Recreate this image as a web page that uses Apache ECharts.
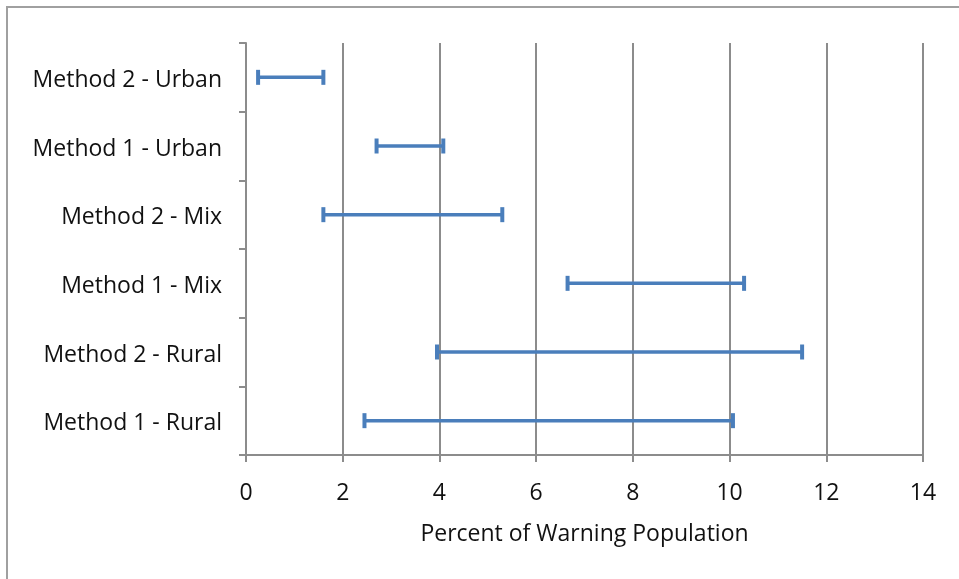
<!DOCTYPE html>
<html>
<head>
<meta charset="utf-8">
<script src="https://cdn.jsdelivr.net/npm/echarts@6/dist/echarts.min.js"></script>
<style>html,body{margin:0;padding:0;background:#fff;}#c{width:959px;height:579px;}</style>
</head>
<body>
<div id="c"></div>
<script>
// Categories from bottom to top
var categories = ['Method 1 - Rural', 'Method 2 - Rural', 'Method 1 - Mix', 'Method 2 - Mix', 'Method 1 - Urban', 'Method 2 - Urban'];
var lowValues  = [2.45, 3.95, 6.65, 1.6, 2.7, 0.25];
var highValues = [10.07, 11.5, 10.3, 5.3, 4.08, 1.6];
var xTicks = [0, 2, 4, 6, 8, 10, 12, 14];

var data = categories.map(function (c, i) { return [i, lowValues[i], highValues[i]]; });

var chart = echarts.init(document.getElementById('c'), null, {renderer: 'canvas'});
var font = '"Open Sans", "Liberation Sans", sans-serif';
chart.setOption({
  animation: false,
  backgroundColor: '#fff',
  graphic: [{
    type: 'rect',
    shape: {x: 7, y: 7, width: 1000, height: 1000},
    style: {fill: 'none', stroke: '#a0a0a0', lineWidth: 2},
    silent: true
  }],
  grid: {left: 246, right: 36, top: 43, bottom: 124},
  xAxis: {
    type: 'value', min: xTicks[0], max: xTicks[xTicks.length - 1], interval: 2,
    axisLine: {show: true, lineStyle: {color: '#8c8c8c', width: 2}},
    axisTick: {show: true, length: 7, lineStyle: {color: '#8c8c8c', width: 2}},
    splitLine: {show: true, lineStyle: {color: '#8c8c8c', width: 2}},
    axisLabel: {color: '#111', fontSize: 23, fontFamily: font, margin: 27},
    name: 'Percent of Warning Population',
    nameLocation: 'middle', nameGap: 68,
    nameTextStyle: {color: '#111', fontSize: 23, fontFamily: font}
  },
  yAxis: {
    type: 'category', data: categories,
    axisLine: {show: true, lineStyle: {color: '#8c8c8c', width: 2}},
    axisTick: {show: true, length: 7, lineStyle: {color: '#8c8c8c', width: 2}},
    splitLine: {show: false},
    axisLabel: {
      margin: 24,
      formatter: function (v) { return '{a|' + v + '}'; },
      rich: {a: {color: '#111', fontSize: 23, fontFamily: font, padding: [6, 0, 0, 0]}}
    }
  },
  series: [{
    type: 'custom',
    data: data,
    encode: {x: [1, 2], y: 0},
    renderItem: function (params, api) {
      var cat = api.value(0);
      var p1 = api.coord([api.value(1), cat]);
      var p2 = api.coord([api.value(2), cat]);
      var h = 7.5;
      var st = {stroke: '#4a7ebb', lineWidth: 3.5};
      var cap = {stroke: '#4a7ebb', lineWidth: 4};
      return {
        type: 'group',
        children: [
          {type: 'line', shape: {x1: p1[0], y1: p1[1], x2: p2[0], y2: p2[1]}, style: st},
          {type: 'line', shape: {x1: p1[0], y1: p1[1] - h, x2: p1[0], y2: p1[1] + h}, style: cap},
          {type: 'line', shape: {x1: p2[0], y1: p2[1] - h, x2: p2[0], y2: p2[1] + h}, style: cap}
        ]
      };
    }
  }]
});
</script>
</body>
</html>
